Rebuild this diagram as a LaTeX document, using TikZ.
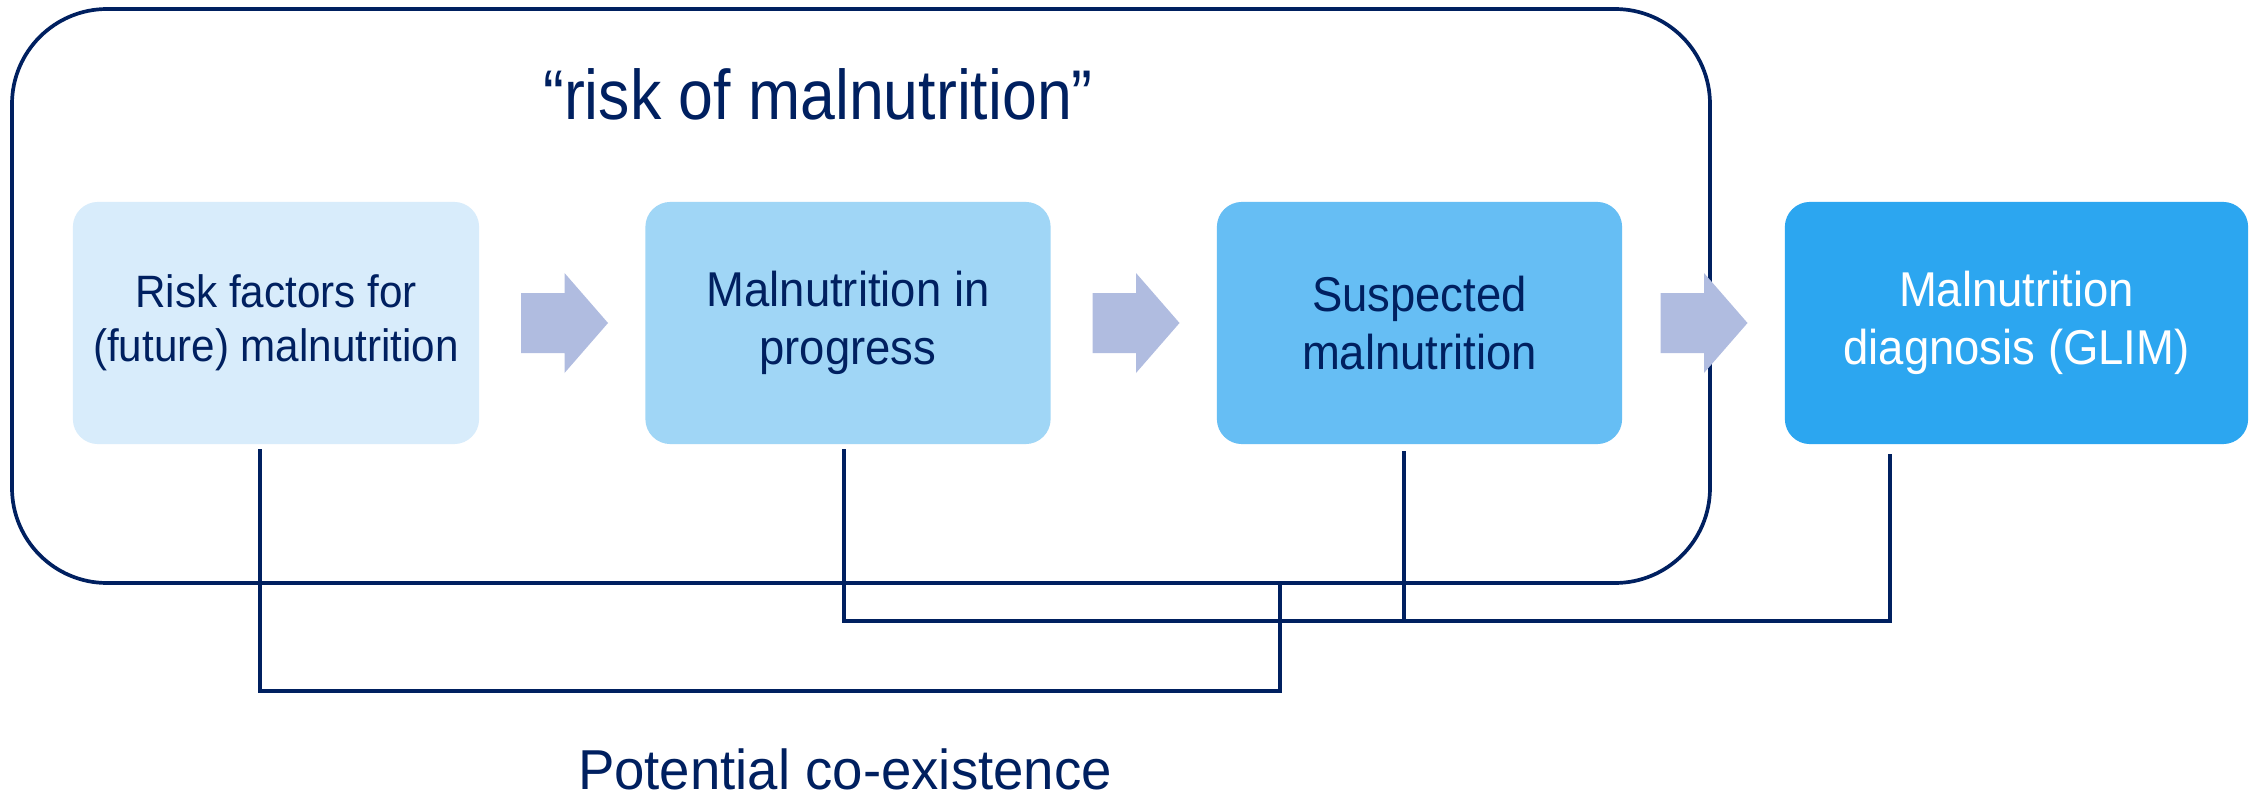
\documentclass[tikz,border=0pt]{standalone}
\usepackage{fontspec}
\setmainfont{Liberation Sans}
\newfontfamily\titlefont[FakeStretch=0.89]{Liberation Sans}
\newfontfamily\labelfont[FakeStretch=0.93]{Liberation Sans}
\newfontfamily\notefont[FakeStretch=0.97]{Liberation Sans}

\definecolor{navy}{RGB}{0,32,96}
\definecolor{stageA}{RGB}{216,236,251}
\definecolor{stageB}{RGB}{160,214,246}
\definecolor{stageC}{RGB}{102,190,244}
\definecolor{stageD}{RGB}{44,166,240}
\definecolor{arrowfill}{RGB}{176,188,224}

\tikzset{
  stagebox/.style={rectangle, rounded corners=0.25cm, inner sep=0pt,
    minimum height=2.42cm, align=center, text=navy,
    font={\labelfont\fontsize{13.9pt}{16.4pt}\selectfont}},
  frameline/.style={draw=navy, line width=1.05pt},
  linkline/.style={draw=navy, line width=0.95pt},
  pics/flowarrow/.style={code={
    \fill[arrowfill] (-43.5,-30) -- (0,-30) -- (0,-50) -- (43.5,0)
      -- (0,50) -- (0,30) -- (-43.5,30) -- cycle;}}
}

\begin{document}
\begin{tikzpicture}[x=0.01cm,y=-0.01cm]
  \useasboundingbox[fill=white] (0,0) rectangle (2253,797);

  % frame around the "risk" stages
  \draw[frameline, rounded corners=0.95cm] (12,9) rectangle (1710,583);
  \node[anchor=base, text=navy, font={\titlefont\fontsize{20pt}{24pt}\selectfont}]
    (title) at (818,120) {“risk of malnutrition”};

  % stages
  \node[stagebox, fill=stageA, minimum width=4.06cm,
        font={\labelfont\fontsize{12.9pt}{15.4pt}\selectfont}]
    (b1) at (276,323) {Risk factors for\\(future) malnutrition};
  \node[stagebox, fill=stageB, minimum width=4.05cm]
    (b2) at (848,323) {Malnutrition in\\progress};
  \node[stagebox, fill=stageC, minimum width=4.05cm]
    (b3) at (1419.5,323) {Suspected\\malnutrition};
  \node[stagebox, fill=stageD, minimum width=4.63cm, text=white]
    (b4) at (2016.5,323) {Malnutrition\\diagnosis (GLIM)};

  % block arrows between stages
  \pic (a1) at (564.5,323) {flowarrow};
  \pic (a2) at (1136,323) {flowarrow};
  \pic (a3) at (1704,323) {flowarrow};

  % co-existence brackets
  \coordinate (s1) at (260,449);
  \coordinate (s2) at (844,449);
  \coordinate (s3) at (1404,451);
  \coordinate (s4) at (1890,454);
  \coordinate (j1) at (1280,583);
  \coordinate (lowbar) at (1280,691);
  \coordinate (midbar) at (1890,621);

  \draw[linkline] (s1) |- (lowbar) -- (j1);
  \draw[linkline] (s2) |- (midbar) -- (s4);
  \draw[linkline] (s3) -- (s3 |- midbar);

  \node[anchor=base, text=navy, font={\notefont\fontsize{16pt}{19pt}\selectfont}]
    (coexist) at (845,789) {Potential co-existence};
\end{tikzpicture}
\end{document}
